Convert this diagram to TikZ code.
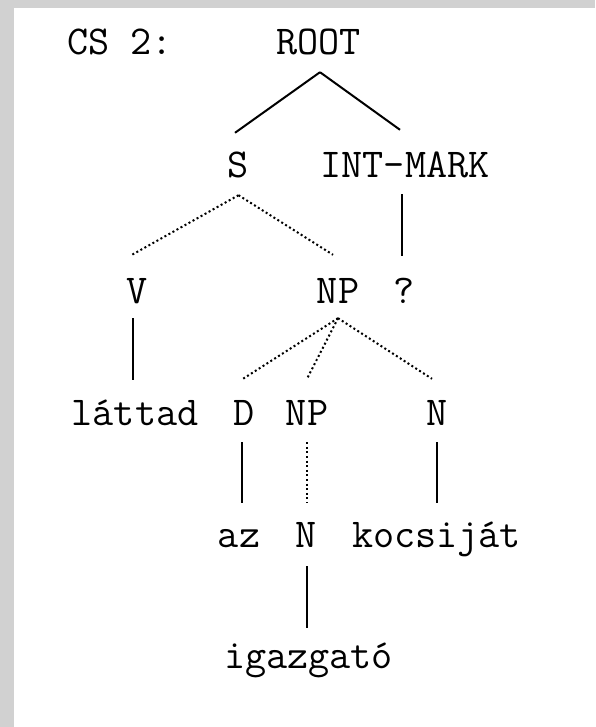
\documentclass[tikz,border=0pt]{standalone}
\begin{document}
\begin{tikzpicture}[x=1pt,y=-1pt,
  lbl/.style={font=\fontsize{41}{41}\selectfont\ttfamily, inner sep=0pt, anchor=base, text height=23pt, text depth=0pt},
  solidedge/.style={line width=2pt},
  dotedge/.style={line width=2pt, dash pattern=on 2pt off 2.6pt}]
\useasboundingbox (0,0) rectangle (595,727);
\fill[black!18] (0,0) rectangle (595,727);
\fill[white] (14,8) rectangle (595,727);
% labels
\node[lbl, anchor=base west] (cs) at (67,55) {CS 2:};
\node[lbl] (root) at (318.5,55) {ROOT};
\node[lbl] (s) at (238.5,178) {S};
\node[lbl] (im) at (405,178) {INT-MARK};
\node[lbl] (v) at (137,303) {V};
\node[lbl] (np1) at (338,303) {NP};
\node[lbl] (q) at (404.5,303) {?};
\node[lbl] (lat) at (135,425) {láttad};
\node[lbl] (d) at (244,425) {D};
\node[lbl] (np2) at (307,425) {NP};
\node[lbl] (n1) at (437,425) {N};
\node[lbl] (az) at (239,547) {az};
\node[lbl] (n2) at (306,547) {N};
\node[lbl] (koc) at (436.5,547) {kocsiját};
\node[lbl] (ig) at (308.5,668) {igazgató};
% connectors
\draw[solidedge] ([xshift=1.5pt,yshift=-17pt]root.south) -- ([xshift=-3.5pt,yshift=22pt]s.north);
\draw[solidedge] ([xshift=1.5pt,yshift=-17pt]root.south) -- ([xshift=-5pt,yshift=25pt]im.north);
\draw[dotedge] ([yshift=-17pt]s.south) -- ([xshift=-5pt,yshift=25pt]v.north);
\draw[dotedge] ([yshift=-17pt]s.south) -- ([xshift=-5pt,yshift=25pt]np1.north);
\draw[solidedge] ([xshift=-3pt,yshift=-16pt]im.south) -- ([xshift=-2.5pt,yshift=24pt]q.north);
\draw[solidedge] ([xshift=-4pt,yshift=-15pt]v.south) -- ([xshift=-2pt,yshift=22pt]lat.north);
\draw[dotedge] ([yshift=-15pt]np1.south) -- ([xshift=-1pt,yshift=23pt]d.north);
\draw[dotedge] ([yshift=-15pt]np1.south) -- ([yshift=23pt]np2.north);
\draw[dotedge] ([yshift=-15pt]np1.south) -- ([xshift=-5pt,yshift=23pt]n1.north);
\draw[solidedge] ([xshift=-2pt,yshift=-17pt]d.south) -- ([xshift=3pt,yshift=21pt]az.north);
\draw[dotedge] ([yshift=-17pt]np2.south) -- ([xshift=1pt,yshift=21pt]n2.north);
\draw[solidedge] ([yshift=-17pt]n1.south) -- ([xshift=0.5pt,yshift=21pt]koc.north);
\draw[solidedge] ([xshift=1pt,yshift=-19pt]n2.south) -- ([xshift=-1.5pt,yshift=17pt]ig.north);
\end{tikzpicture}
\end{document}
